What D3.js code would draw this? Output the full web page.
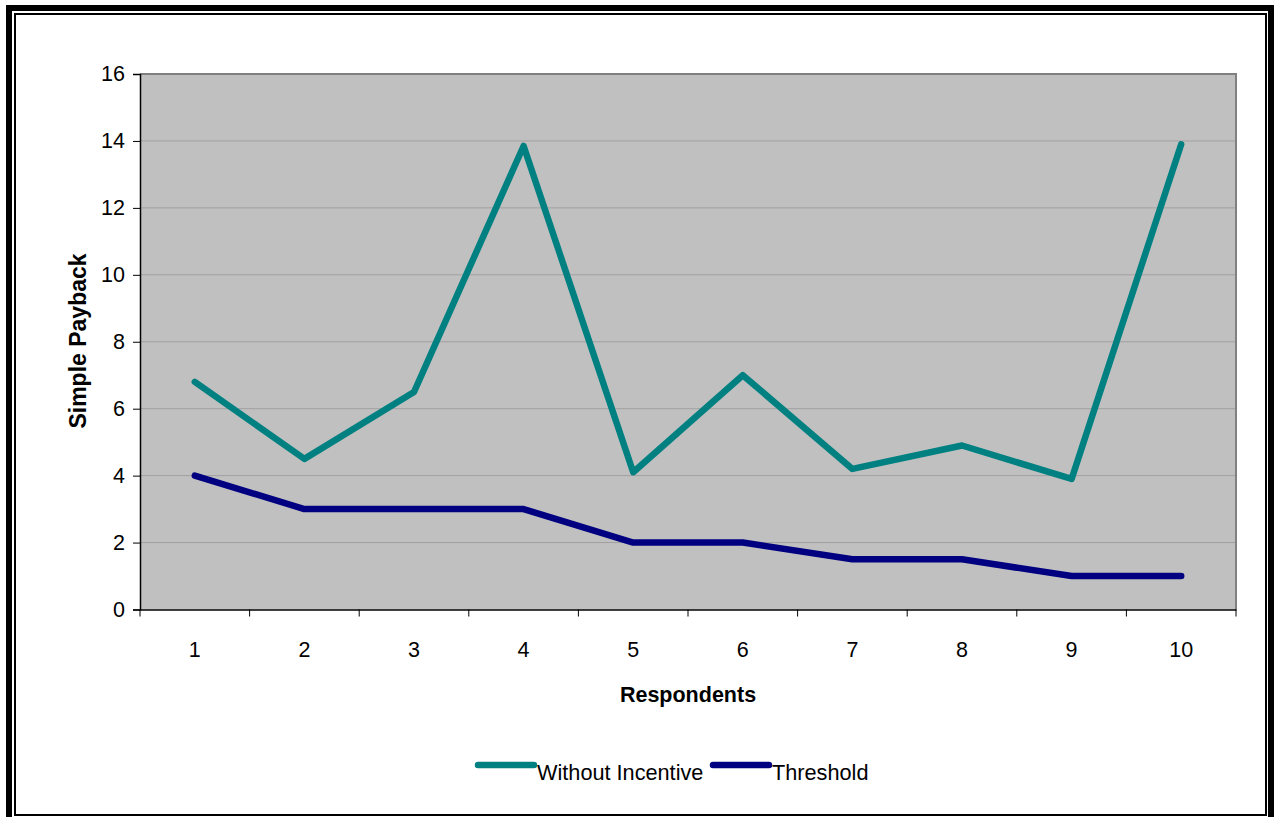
<!DOCTYPE html>
<html><head><meta charset="utf-8">
<script src="https://cdn.jsdelivr.net/npm/d3@7/dist/d3.min.js"></script>
<style>body{margin:0;background:#fff}svg{display:block}</style>
</head><body>
<script>
const categories = ["1","2","3","4","5","6","7","8","9","10"];
const withoutIncentive = [6.8, 4.5, 6.5, 13.85, 4.1, 7.0, 4.2, 4.9, 3.9, 13.9];
const threshold = [4, 3, 3, 3, 2, 2, 1.5, 1.5, 1, 1];
const yTicks = [0, 2, 4, 6, 8, 10, 12, 14, 16];
const seriesNames = ["Without Incentive", "Threshold"];
const seriesColors = ["#008080", "#000080"];

const W = 1275, H = 817;
const svg = d3.select("body").append("svg").attr("width", W).attr("height", H);
const font = "'Liberation Sans', Arial, sans-serif";

// frame
svg.append("rect").attr("x", 9).attr("y", 8).attr("width", 1262).attr("height", 818)
  .attr("fill", "none").attr("stroke", "#000").attr("stroke-width", 6);
svg.append("rect").attr("x", 15).attr("y", 14).attr("width", 1251).attr("height", 801)
  .attr("fill", "none").attr("stroke", "#000").attr("stroke-width", 2);

const L = 140, R = 1236, T = 74, B = 609.5;
const x = d3.scaleBand().domain(categories).range([L, R]);
const y = d3.scaleLinear().domain([0, 16]).range([B, T]);

svg.append("rect").attr("x", L).attr("y", T).attr("width", R - L).attr("height", B - T)
  .attr("fill", "#c0c0c0");

// gridlines
svg.append("g").selectAll("line").data(yTicks.filter(d => d > 0 && d < 16)).join("line")
  .attr("x1", L).attr("x2", R).attr("y1", d => y(d)).attr("y2", d => y(d))
  .attr("stroke", "#a0a0a0").attr("stroke-width", 1);

// plot border (top and right gray)
svg.append("path").attr("d", `M${L},${T}H${R}V${B}`).attr("fill", "none")
  .attr("stroke", "#808080").attr("stroke-width", 2);

// y axis
const yAxis = svg.append("g").attr("transform", `translate(${L},0)`)
  .call(d3.axisLeft(y).tickValues(yTicks).tickSize(7).tickPadding(8).tickFormat(d3.format("d")));
yAxis.select(".domain").attr("stroke", "#000").attr("stroke-width", 1.5);
yAxis.selectAll(".tick line").attr("stroke", "#000");
yAxis.selectAll("text").attr("font-family", font).attr("font-size", 21.5).attr("fill", "#000");

// x axis
const xAxis = svg.append("g").attr("transform", `translate(0,${B})`)
  .call(d3.axisBottom(x).tickSize(0).tickPadding(32));
xAxis.select(".domain").attr("stroke", "#000").attr("stroke-width", 1.5);
xAxis.selectAll("text").attr("font-family", font).attr("font-size", 21.5).attr("fill", "#000");
// category boundary ticks
const bounds = categories.map(c => x(c)).concat([R]);
svg.append("g").selectAll("line").data(bounds).join("line")
  .attr("x1", d => d).attr("x2", d => d).attr("y1", B).attr("y2", B + 7)
  .attr("stroke", "#000").attr("stroke-width", 1);

// titles
svg.append("text").attr("x", (L + R) / 2).attr("y", 702).attr("text-anchor", "middle")
  .attr("font-family", font).attr("font-weight", "bold").attr("font-size", 21.5).text("Respondents");
svg.append("text").attr("transform", `translate(86,341) rotate(-90)`)
  .attr("text-anchor", "middle").attr("font-family", font).attr("font-weight", "bold")
  .attr("font-size", 23).text("Simple Payback");

// lines
const line = d3.line().x((d, i) => x(categories[i]) + x.bandwidth() / 2).y(d => y(d));
[withoutIncentive, threshold].forEach((s, i) => {
  svg.append("path").datum(s).attr("d", line).attr("fill", "none")
    .attr("stroke", seriesColors[i]).attr("stroke-width", 6.5)
    .attr("stroke-linejoin", "round").attr("stroke-linecap", "round");
});

// legend
const legendItems = [{x1: 478, x2: 534, tx: 537}, {x1: 713, x2: 769, tx: 772}];
legendItems.forEach((p, i) => {
  svg.append("line").attr("x1", p.x1).attr("x2", p.x2).attr("y1", 765).attr("y2", 765)
    .attr("stroke", seriesColors[i]).attr("stroke-width", 6.5).attr("stroke-linecap", "round");
  svg.append("text").attr("x", p.tx).attr("y", 780).attr("font-family", font)
    .attr("font-size", 21.7).attr("fill", "#000").text(seriesNames[i]);
});
</script>
</body></html>
